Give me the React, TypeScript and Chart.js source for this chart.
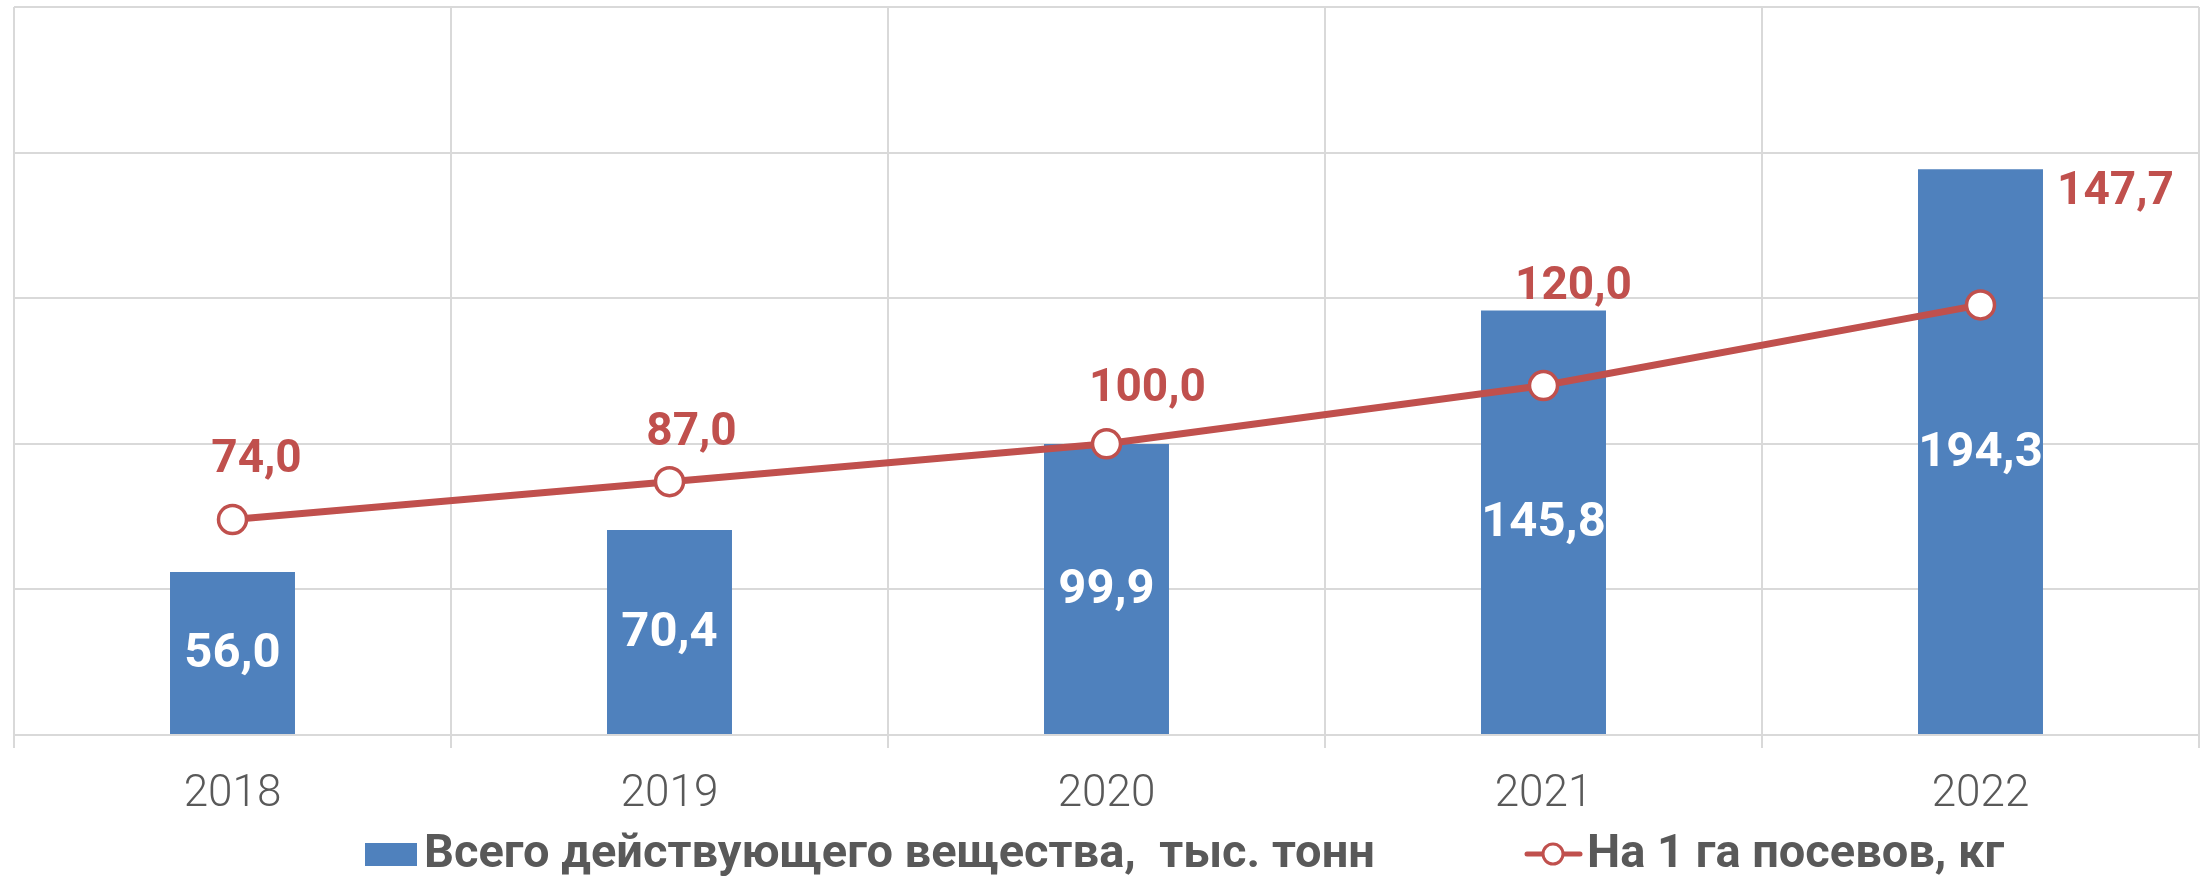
import React, { useEffect, useRef } from 'react';
import { Chart, registerables } from 'chart.js';

Chart.register(...registerables);

// ---- data ----
const categories = ['2018', '2019', '2020', '2021', '2022'];
const totalSubstance = [56.0, 70.4, 99.9, 145.8, 194.3];
const perHectare = [74.0, 87.0, 100.0, 120.0, 147.7];
const seriesNames = ['Всего действующего вещества,  тыс. тонн', 'На 1 га посевов, кг'];
const yTickValues = [0, 50, 100, 150, 200, 250];

// ---- style ----
const BAR_COLOR = '#4F81BD';
const LINE_COLOR = '#C0504D';
const GRID_COLOR = '#D9D9D9';
const TEXT_COLOR = '#595959';
const FONT = "Roboto, 'Open Sans', 'DejaVu Sans', sans-serif";
// label offsets for the line series (dx, dy) relative to each point
const lineLabelOffsets = [
  [24, -59],
  [22, -48],
  [41, -54],
  [30, -98],
  [135, -112],
];

const fmt = (v: number) => v.toFixed(1).replace('.', ',');

const valueLabelsPlugin = {
  id: 'valueLabels',
  afterDatasetsDraw(chart: any) {
    const ctx = chart.ctx;
    ctx.save();
    ctx.textAlign = 'center';
    ctx.textBaseline = 'middle';
    // bar labels
    const barMeta = chart.getDatasetMeta(0);
    ctx.fillStyle = '#FFFFFF';
    ctx.font = `bold 49px ${FONT}`;
    barMeta.data.forEach((el: any, i: number) => {
      const p = el.getProps(['x', 'y', 'base'], true);
      ctx.fillText(fmt(totalSubstance[i]), p.x, (p.y + p.base) / 2 + 2);
    });
    // line labels
    const lineMeta = chart.getDatasetMeta(1);
    ctx.fillStyle = LINE_COLOR;
    ctx.font = `bold 46px ${FONT}`;
    lineMeta.data.forEach((el: any, i: number) => {
      const p = el.getProps(['x', 'y'], true);
      const [dx, dy] = lineLabelOffsets[i];
      ctx.fillText(fmt(perHectare[i]), p.x + dx, p.y + dy);
    });
    ctx.restore();
  },
};

const legendPlugin = {
  id: 'customLegend',
  afterDraw(chart: any) {
    const ctx = chart.ctx;
    const cy = 854;
    ctx.save();
    ctx.font = `bold 47px ${FONT}`;
    ctx.textBaseline = 'middle';
    ctx.textAlign = 'left';
    // item 1
    ctx.fillStyle = BAR_COLOR;
    ctx.fillRect(365, cy - 11, 52, 23);
    ctx.fillStyle = TEXT_COLOR;
    ctx.fillText(seriesNames[0], 424, cy + 1);
    // item 2
    ctx.strokeStyle = LINE_COLOR;
    ctx.lineWidth = 5;
    ctx.lineCap = 'round';
    ctx.beginPath();
    ctx.moveTo(1527, cy);
    ctx.lineTo(1580, cy);
    ctx.stroke();
    ctx.beginPath();
    ctx.arc(1553, cy, 10, 0, Math.PI * 2);
    ctx.fillStyle = '#FFFFFF';
    ctx.fill();
    ctx.lineWidth = 3;
    ctx.stroke();
    ctx.fillStyle = TEXT_COLOR;
    ctx.fillText(seriesNames[1], 1587, cy + 1);
    ctx.restore();
  },
};

export default function App() {
  const ref = useRef<HTMLCanvasElement | null>(null);

  useEffect(() => {
    document.body.style.margin = '0';
    if (!ref.current) return;
    const chart = new Chart(ref.current, {
      type: 'bar',
      data: {
        labels: categories,
        datasets: [
          {
            type: 'bar',
            label: seriesNames[0],
            data: totalSubstance,
            backgroundColor: BAR_COLOR,
            categoryPercentage: 1,
            barPercentage: 0.286,
            order: 1,
          },
          {
            type: 'line',
            label: seriesNames[1],
            data: perHectare,
            borderColor: LINE_COLOR,
            borderWidth: 7,
            pointRadius: 14,
            pointBorderWidth: 3.5,
            pointBackgroundColor: '#FFFFFF',
            pointBorderColor: LINE_COLOR,
            tension: 0,
            order: 0,
          } as any,
        ],
      },
      options: {
        responsive: false,
        animation: false,
        devicePixelRatio: 1,
        layout: { autoPadding: false, padding: { left: 14, right: 9, top: 7, bottom: 62 } },
        plugins: {
          legend: { display: false },
          tooltip: { enabled: false },
        },
        scales: {
          x: {
            grid: {
              offset: true,
              color: GRID_COLOR,
              lineWidth: 2,
              tickLength: 13,
            },
            border: { color: GRID_COLOR, width: 2 },
            ticks: {
              color: TEXT_COLOR,
              font: { family: FONT, size: 44, weight: '300' as any },
              padding: 21,
            },
            afterFit: (scale: any) => {
              scale.height = 80;
            },
          },
          y: {
            min: yTickValues[0],
            max: yTickValues[yTickValues.length - 1],
            afterBuildTicks: (scale: any) => {
              scale.ticks = yTickValues.map((v) => ({ value: v }));
            },
            ticks: { display: false },
            grid: { color: GRID_COLOR, lineWidth: 2, drawTicks: false },
            border: { display: false },
            afterFit: (scale: any) => {
              scale.width = 0;
            },
          },
        },
      },
      plugins: [valueLabelsPlugin, legendPlugin],
    });
    return () => chart.destroy();
  }, []);

  return (
    <div style={{ width: 2208, height: 877, overflow: 'hidden', background: '#FFFFFF' }}>
      <canvas ref={ref} width={2208} height={877} style={{ display: 'block' }} />
    </div>
  );
}
